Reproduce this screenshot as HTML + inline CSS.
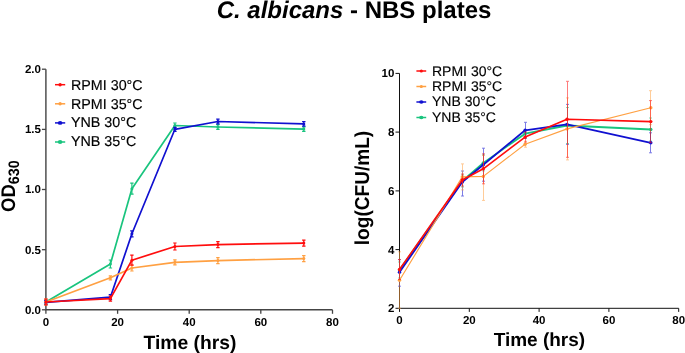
<!DOCTYPE html>
<html><head><meta charset="utf-8"><title>C. albicans - NBS plates</title>
<style>
html,body{margin:0;padding:0;background:#fff;}
body{width:685px;height:353px;overflow:hidden;}
svg{display:block;will-change:transform;font-family:"Liberation Sans",sans-serif;fill:#000;}
text{text-rendering:geometricPrecision;}
</style></head><body>
<svg width="685" height="353" viewBox="0 0 685 353">
<rect width="685" height="353" fill="#ffffff"/>
<text x="354" y="17.7" text-anchor="middle" font-size="24" font-weight="bold"><tspan font-style="italic">C. albicans</tspan> - NBS plates</text>
<path d="M45.9,69.2V309.8H332.5" stroke="#444444" stroke-width="1.4" fill="none"/>
<path d="M41.9,309.8H45.9" stroke="#444444" stroke-width="1.3"/>
<text x="40.9" y="313.6" text-anchor="end" font-size="11.5" font-weight="bold">0.0</text>
<path d="M41.9,249.7H45.9" stroke="#444444" stroke-width="1.3"/>
<text x="40.9" y="253.5" text-anchor="end" font-size="11.5" font-weight="bold">0.5</text>
<path d="M41.9,189.5H45.9" stroke="#444444" stroke-width="1.3"/>
<text x="40.9" y="193.3" text-anchor="end" font-size="11.5" font-weight="bold">1.0</text>
<path d="M41.9,129.4H45.9" stroke="#444444" stroke-width="1.3"/>
<text x="40.9" y="133.2" text-anchor="end" font-size="11.5" font-weight="bold">1.5</text>
<path d="M41.9,69.2H45.9" stroke="#444444" stroke-width="1.3"/>
<text x="40.9" y="73.0" text-anchor="end" font-size="11.5" font-weight="bold">2.0</text>
<path d="M45.9,309.8v4" stroke="#444444" stroke-width="1.3"/>
<text x="45.9" y="325.6" text-anchor="middle" font-size="11.5" font-weight="bold">0</text>
<path d="M117.6,309.8v4" stroke="#444444" stroke-width="1.3"/>
<text x="117.6" y="325.6" text-anchor="middle" font-size="11.5" font-weight="bold">20</text>
<path d="M189.2,309.8v4" stroke="#444444" stroke-width="1.3"/>
<text x="189.2" y="325.6" text-anchor="middle" font-size="11.5" font-weight="bold">40</text>
<path d="M260.8,309.8v4" stroke="#444444" stroke-width="1.3"/>
<text x="260.8" y="325.6" text-anchor="middle" font-size="11.5" font-weight="bold">60</text>
<path d="M332.5,309.8v4" stroke="#444444" stroke-width="1.3"/>
<text x="332.5" y="325.6" text-anchor="middle" font-size="11.5" font-weight="bold">80</text>
<text x="189.9" y="348.6" text-anchor="middle" font-size="19.3" font-weight="bold">Time (hrs)</text>
<text transform="translate(14.9,211.9) rotate(-90) scale(0.94,1)" font-size="19.7" font-weight="bold">OD<tspan font-size="15.2" dy="4.5">630</tspan></text>
<polyline points="45.9,302.0 110.4,264.0 131.9,188.7 174.9,125.5 217.9,127.0 303.8,129.1" fill="none" stroke="#19c47e" stroke-width="1.7" stroke-linejoin="round" stroke-linecap="round"/>
<path d="M45.9,300.0V304.0M44.2,300.0h3.4M44.2,304.0h3.4" stroke="#19c47e" stroke-width="1.2" fill="none"/><path d="M110.4,260.0V268.0M108.7,260.0h3.4M108.7,268.0h3.4" stroke="#19c47e" stroke-width="1.2" fill="none"/><path d="M131.9,183.2V194.2M130.2,183.2h3.4M130.2,194.2h3.4" stroke="#19c47e" stroke-width="1.2" fill="none"/><path d="M174.9,123.0V128.0M173.2,123.0h3.4M173.2,128.0h3.4" stroke="#19c47e" stroke-width="1.2" fill="none"/><path d="M217.9,124.7V129.3M216.2,124.7h3.4M216.2,129.3h3.4" stroke="#19c47e" stroke-width="1.2" fill="none"/><path d="M303.8,126.8V131.4M302.1,126.8h3.4M302.1,131.4h3.4" stroke="#19c47e" stroke-width="1.2" fill="none"/>
<circle cx="45.9" cy="302.0" r="1.5" fill="#19c47e"/><circle cx="110.4" cy="264.0" r="1.5" fill="#19c47e"/><circle cx="131.9" cy="188.7" r="1.5" fill="#19c47e"/><circle cx="174.9" cy="125.5" r="1.5" fill="#19c47e"/><circle cx="217.9" cy="127.0" r="1.5" fill="#19c47e"/><circle cx="303.8" cy="129.1" r="1.5" fill="#19c47e"/>
<polyline points="45.9,302.4 110.4,297.2 131.9,233.8 174.9,129.3 217.9,121.5 303.8,123.9" fill="none" stroke="#1010d0" stroke-width="1.7" stroke-linejoin="round" stroke-linecap="round"/>
<path d="M45.9,300.4V304.4M44.2,300.4h3.4M44.2,304.4h3.4" stroke="#1010d0" stroke-width="1.2" fill="none"/><path d="M110.4,294.7V299.7M108.7,294.7h3.4M108.7,299.7h3.4" stroke="#1010d0" stroke-width="1.2" fill="none"/><path d="M131.9,230.8V236.8M130.2,230.8h3.4M130.2,236.8h3.4" stroke="#1010d0" stroke-width="1.2" fill="none"/><path d="M174.9,127.3V131.3M173.2,127.3h3.4M173.2,131.3h3.4" stroke="#1010d0" stroke-width="1.2" fill="none"/><path d="M217.9,119.2V123.8M216.2,119.2h3.4M216.2,123.8h3.4" stroke="#1010d0" stroke-width="1.2" fill="none"/><path d="M303.8,121.6V126.2M302.1,121.6h3.4M302.1,126.2h3.4" stroke="#1010d0" stroke-width="1.2" fill="none"/>
<circle cx="45.9" cy="302.4" r="1.5" fill="#1010d0"/><circle cx="110.4" cy="297.2" r="1.5" fill="#1010d0"/><circle cx="131.9" cy="233.8" r="1.5" fill="#1010d0"/><circle cx="174.9" cy="129.3" r="1.5" fill="#1010d0"/><circle cx="217.9" cy="121.5" r="1.5" fill="#1010d0"/><circle cx="303.8" cy="123.9" r="1.5" fill="#1010d0"/>
<polyline points="45.9,302.0 110.4,277.8 131.9,268.0 174.9,262.3 217.9,260.6 303.8,258.6" fill="none" stroke="#ffa042" stroke-width="1.7" stroke-linejoin="round" stroke-linecap="round"/>
<path d="M45.9,299.0V305.0M44.2,299.0h3.4M44.2,305.0h3.4" stroke="#ffa042" stroke-width="1.2" fill="none"/><path d="M110.4,275.8V279.8M108.7,275.8h3.4M108.7,279.8h3.4" stroke="#ffa042" stroke-width="1.2" fill="none"/><path d="M131.9,265.0V271.0M130.2,265.0h3.4M130.2,271.0h3.4" stroke="#ffa042" stroke-width="1.2" fill="none"/><path d="M174.9,259.8V264.8M173.2,259.8h3.4M173.2,264.8h3.4" stroke="#ffa042" stroke-width="1.2" fill="none"/><path d="M217.9,257.6V263.6M216.2,257.6h3.4M216.2,263.6h3.4" stroke="#ffa042" stroke-width="1.2" fill="none"/><path d="M303.8,255.6V261.6M302.1,255.6h3.4M302.1,261.6h3.4" stroke="#ffa042" stroke-width="1.2" fill="none"/>
<circle cx="45.9" cy="302.0" r="1.5" fill="#ffa042"/><circle cx="110.4" cy="277.8" r="1.5" fill="#ffa042"/><circle cx="131.9" cy="268.0" r="1.5" fill="#ffa042"/><circle cx="174.9" cy="262.3" r="1.5" fill="#ffa042"/><circle cx="217.9" cy="260.6" r="1.5" fill="#ffa042"/><circle cx="303.8" cy="258.6" r="1.5" fill="#ffa042"/>
<polyline points="45.9,302.0 110.4,298.6 131.9,260.2 174.9,246.5 217.9,244.6 303.8,243.1" fill="none" stroke="#ff0d0d" stroke-width="1.7" stroke-linejoin="round" stroke-linecap="round"/>
<path d="M45.9,299.0V305.0M44.2,299.0h3.4M44.2,305.0h3.4" stroke="#ff0d0d" stroke-width="1.2" fill="none"/><path d="M110.4,296.1V301.1M108.7,296.1h3.4M108.7,301.1h3.4" stroke="#ff0d0d" stroke-width="1.2" fill="none"/><path d="M131.9,255.2V265.2M130.2,255.2h3.4M130.2,265.2h3.4" stroke="#ff0d0d" stroke-width="1.2" fill="none"/><path d="M174.9,243.0V250.0M173.2,243.0h3.4M173.2,250.0h3.4" stroke="#ff0d0d" stroke-width="1.2" fill="none"/><path d="M217.9,241.6V247.6M216.2,241.6h3.4M216.2,247.6h3.4" stroke="#ff0d0d" stroke-width="1.2" fill="none"/><path d="M303.8,240.1V246.1M302.1,240.1h3.4M302.1,246.1h3.4" stroke="#ff0d0d" stroke-width="1.2" fill="none"/>
<circle cx="45.9" cy="302.0" r="1.5" fill="#ff0d0d"/><circle cx="110.4" cy="298.6" r="1.5" fill="#ff0d0d"/><circle cx="131.9" cy="260.2" r="1.5" fill="#ff0d0d"/><circle cx="174.9" cy="246.5" r="1.5" fill="#ff0d0d"/><circle cx="217.9" cy="244.6" r="1.5" fill="#ff0d0d"/><circle cx="303.8" cy="243.1" r="1.5" fill="#ff0d0d"/>
<path d="M55,84.7H65.2" stroke="#ff0d0d" stroke-width="1.5"/><ellipse cx="60.1" cy="84.7" rx="1.7" ry="1.7" fill="#ff0d0d"/>
<text x="71" y="89.5" font-size="14.3" stroke="#000" stroke-width="0.15">RPMI 30°C</text>
<path d="M55,103.8H65.2" stroke="#ffa042" stroke-width="1.5"/><ellipse cx="60.1" cy="103.8" rx="1.7" ry="1.7" fill="#ffa042"/>
<text x="71" y="108.5" font-size="14.3" stroke="#000" stroke-width="0.15">RPMI 35°C</text>
<path d="M55,122.9H65.2" stroke="#1010d0" stroke-width="1.5"/><ellipse cx="60.1" cy="122.9" rx="2.3" ry="1.9" fill="#1010d0"/>
<text x="71" y="127.4" font-size="14.3" stroke="#000" stroke-width="0.15">YNB 30°C</text>
<path d="M55,142.0H65.2" stroke="#19c47e" stroke-width="1.5"/><ellipse cx="60.1" cy="142.0" rx="2.3" ry="1.9" fill="#19c47e"/>
<text x="71" y="146.4" font-size="14.3" stroke="#000" stroke-width="0.15">YNB 35°C</text>
<path d="M399.5,73.4V308.3H678.7" stroke="#111111" stroke-width="1.0" fill="none"/>
<path d="M395.5,308.3H399.5" stroke="#111111" stroke-width="1.0"/>
<text x="394.4" y="312.3" text-anchor="end" font-size="11.5" font-weight="bold">2</text>
<path d="M395.5,249.6H399.5" stroke="#111111" stroke-width="1.0"/>
<text x="394.4" y="253.6" text-anchor="end" font-size="11.5" font-weight="bold">4</text>
<path d="M395.5,190.9H399.5" stroke="#111111" stroke-width="1.0"/>
<text x="394.4" y="194.9" text-anchor="end" font-size="11.5" font-weight="bold">6</text>
<path d="M395.5,132.1H399.5" stroke="#111111" stroke-width="1.0"/>
<text x="394.4" y="136.1" text-anchor="end" font-size="11.5" font-weight="bold">8</text>
<path d="M395.5,73.4H399.5" stroke="#111111" stroke-width="1.0"/>
<text x="394.4" y="77.4" text-anchor="end" font-size="11.5" font-weight="bold">10</text>
<path d="M399.5,308.3v3.6" stroke="#111111" stroke-width="1.0"/>
<text x="399.5" y="324.0" text-anchor="middle" font-size="11.5" font-weight="bold">0</text>
<path d="M469.3,308.3v3.6" stroke="#111111" stroke-width="1.0"/>
<text x="469.3" y="324.0" text-anchor="middle" font-size="11.5" font-weight="bold">20</text>
<path d="M539.1,308.3v3.6" stroke="#111111" stroke-width="1.0"/>
<text x="539.1" y="324.0" text-anchor="middle" font-size="11.5" font-weight="bold">40</text>
<path d="M608.9,308.3v3.6" stroke="#111111" stroke-width="1.0"/>
<text x="608.9" y="324.0" text-anchor="middle" font-size="11.5" font-weight="bold">60</text>
<path d="M678.7,308.3v3.6" stroke="#111111" stroke-width="1.0"/>
<text x="678.7" y="324.0" text-anchor="middle" font-size="11.5" font-weight="bold">80</text>
<text x="539.4" y="346.2" text-anchor="middle" font-size="19.0" font-weight="bold">Time (hrs)</text>
<text transform="translate(368.8,188) rotate(-90) scale(0.945,1)" text-anchor="middle" font-size="20.2" font-weight="bold">log(CFU/mL)</text>
<polyline points="399.5,270.0 462.3,181.0 483.3,162.9 525.1,133.7 567.0,125.5 650.8,129.5" fill="none" stroke="#19c47e" stroke-width="1.8" stroke-linejoin="round" stroke-linecap="round"/>
<g opacity="0.6"><path d="M399.5,262.0V278.0M398.0,262.0h3.0M398.0,278.0h3.0" stroke="#19c47e" stroke-width="0.9" fill="none"/><path d="M462.5,175.0V187.0M461.0,175.0h3.0M461.0,187.0h3.0" stroke="#19c47e" stroke-width="0.9" fill="none"/><path d="M483.5,154.9V170.9M482.0,154.9h3.0M482.0,170.9h3.0" stroke="#19c47e" stroke-width="0.9" fill="none"/><path d="M525.5,129.7V137.7M524.0,129.7h3.0M524.0,137.7h3.0" stroke="#19c47e" stroke-width="0.9" fill="none"/><path d="M567.5,107.5V143.5M566.0,107.5h3.0M566.0,143.5h3.0" stroke="#19c47e" stroke-width="0.9" fill="none"/><path d="M650.5,118.0V141.0M649.0,118.0h3.0M649.0,141.0h3.0" stroke="#19c47e" stroke-width="0.9" fill="none"/></g>
<circle cx="399.5" cy="270.0" r="1.7" fill="#19c47e"/><circle cx="462.3" cy="181.0" r="1.7" fill="#19c47e"/><circle cx="483.3" cy="162.9" r="1.7" fill="#19c47e"/><circle cx="525.1" cy="133.7" r="1.7" fill="#19c47e"/><circle cx="567.0" cy="125.5" r="1.7" fill="#19c47e"/><circle cx="650.8" cy="129.5" r="1.7" fill="#19c47e"/>
<polyline points="399.5,272.2 462.3,182.0 483.3,164.7 525.1,130.3 567.0,124.4 650.8,142.8" fill="none" stroke="#1010d0" stroke-width="1.75" stroke-linejoin="round" stroke-linecap="round"/>
<g opacity="0.6"><path d="M399.5,259.7V286.2M398.0,259.7h3.0M398.0,286.2h3.0" stroke="#1010d0" stroke-width="0.9" fill="none"/><path d="M462.5,171.0V196.0M461.0,171.0h3.0M461.0,196.0h3.0" stroke="#1010d0" stroke-width="0.9" fill="none"/><path d="M483.5,148.2V181.2M482.0,148.2h3.0M482.0,181.2h3.0" stroke="#1010d0" stroke-width="0.9" fill="none"/><path d="M525.5,122.3V138.3M524.0,122.3h3.0M524.0,138.3h3.0" stroke="#1010d0" stroke-width="0.9" fill="none"/><path d="M567.5,104.4V144.4M566.0,104.4h3.0M566.0,144.4h3.0" stroke="#1010d0" stroke-width="0.9" fill="none"/><path d="M650.5,132.8V152.8M649.0,132.8h3.0M649.0,152.8h3.0" stroke="#1010d0" stroke-width="0.9" fill="none"/></g>
<circle cx="399.5" cy="272.2" r="1.7" fill="#1010d0"/><circle cx="462.3" cy="182.0" r="1.7" fill="#1010d0"/><circle cx="483.3" cy="164.7" r="1.7" fill="#1010d0"/><circle cx="525.1" cy="130.3" r="1.7" fill="#1010d0"/><circle cx="567.0" cy="124.4" r="1.7" fill="#1010d0"/><circle cx="650.8" cy="142.8" r="1.7" fill="#1010d0"/>
<polyline points="399.5,280.3 462.3,176.9 483.3,176.4 525.1,144.2 567.0,128.9 650.8,107.7" fill="none" stroke="#ffa042" stroke-width="1.15" stroke-linejoin="round" stroke-linecap="round"/>
<g opacity="0.6"><path d="M399.5,251.8V308.3M398.0,251.8h3.0M398.0,308.3h3.0" stroke="#ffa042" stroke-width="0.9" fill="none"/><path d="M462.5,163.9V189.9M461.0,163.9h3.0M461.0,189.9h3.0" stroke="#ffa042" stroke-width="0.9" fill="none"/><path d="M483.5,155.4V200.4M482.0,155.4h3.0M482.0,200.4h3.0" stroke="#ffa042" stroke-width="0.9" fill="none"/><path d="M525.5,141.2V147.2M524.0,141.2h3.0M524.0,147.2h3.0" stroke="#ffa042" stroke-width="0.9" fill="none"/><path d="M567.5,97.9V159.9M566.0,97.9h3.0M566.0,159.9h3.0" stroke="#ffa042" stroke-width="0.9" fill="none"/><path d="M650.5,90.7V124.7M649.0,90.7h3.0M649.0,124.7h3.0" stroke="#ffa042" stroke-width="0.9" fill="none"/></g>
<circle cx="399.5" cy="280.3" r="1.7" fill="#ffa042"/><circle cx="462.3" cy="176.9" r="1.7" fill="#ffa042"/><circle cx="483.3" cy="176.4" r="1.7" fill="#ffa042"/><circle cx="525.1" cy="144.2" r="1.7" fill="#ffa042"/><circle cx="567.0" cy="128.9" r="1.7" fill="#ffa042"/><circle cx="650.8" cy="107.7" r="1.7" fill="#ffa042"/>
<polyline points="399.5,269.5 462.3,180.0 483.3,168.8 525.1,137.1 567.0,119.3 650.8,121.6" fill="none" stroke="#ff0d0d" stroke-width="1.6" stroke-linejoin="round" stroke-linecap="round"/>
<g opacity="0.6"><path d="M399.5,259.5V279.5M398.0,259.5h3.0M398.0,279.5h3.0" stroke="#ff0d0d" stroke-width="0.9" fill="none"/><path d="M462.5,174.0V186.0M461.0,174.0h3.0M461.0,186.0h3.0" stroke="#ff0d0d" stroke-width="0.9" fill="none"/><path d="M483.5,153.8V183.8M482.0,153.8h3.0M482.0,183.8h3.0" stroke="#ff0d0d" stroke-width="0.9" fill="none"/><path d="M525.5,132.1V142.1M524.0,132.1h3.0M524.0,142.1h3.0" stroke="#ff0d0d" stroke-width="0.9" fill="none"/><path d="M567.5,81.3V157.3M566.0,81.3h3.0M566.0,157.3h3.0" stroke="#ff0d0d" stroke-width="0.9" fill="none"/><path d="M650.5,100.6V142.6M649.0,100.6h3.0M649.0,142.6h3.0" stroke="#ff0d0d" stroke-width="0.9" fill="none"/></g>
<circle cx="399.5" cy="269.5" r="1.7" fill="#ff0d0d"/><circle cx="462.3" cy="180.0" r="1.7" fill="#ff0d0d"/><circle cx="483.3" cy="168.8" r="1.7" fill="#ff0d0d"/><circle cx="525.1" cy="137.1" r="1.7" fill="#ff0d0d"/><circle cx="567.0" cy="119.3" r="1.7" fill="#ff0d0d"/><circle cx="650.8" cy="121.6" r="1.7" fill="#ff0d0d"/>
<path d="M416.4,71.0H426.2" stroke="#ff0d0d" stroke-width="1.5"/><ellipse cx="421.3" cy="71.0" rx="1.6" ry="1.6" fill="#ff0d0d"/>
<text x="432" y="75.5" font-size="14.0" stroke="#000" stroke-width="0.15">RPMI 30°C</text>
<path d="M416.4,86.5H426.2" stroke="#ffa042" stroke-width="1.5"/><ellipse cx="421.3" cy="86.5" rx="1.6" ry="1.6" fill="#ffa042"/>
<text x="432" y="90.8" font-size="14.0" stroke="#000" stroke-width="0.15">RPMI 35°C</text>
<path d="M416.4,102.0H426.2" stroke="#1010d0" stroke-width="1.5"/><ellipse cx="421.3" cy="102.0" rx="2.2" ry="1.8" fill="#1010d0"/>
<text x="432" y="106.2" font-size="14.0" stroke="#000" stroke-width="0.15">YNB 30°C</text>
<path d="M416.4,117.5H426.2" stroke="#19c47e" stroke-width="1.5"/><ellipse cx="421.3" cy="117.5" rx="2.2" ry="1.8" fill="#19c47e"/>
<text x="432" y="121.5" font-size="14.0" stroke="#000" stroke-width="0.15">YNB 35°C</text>
</svg>
</body></html>
